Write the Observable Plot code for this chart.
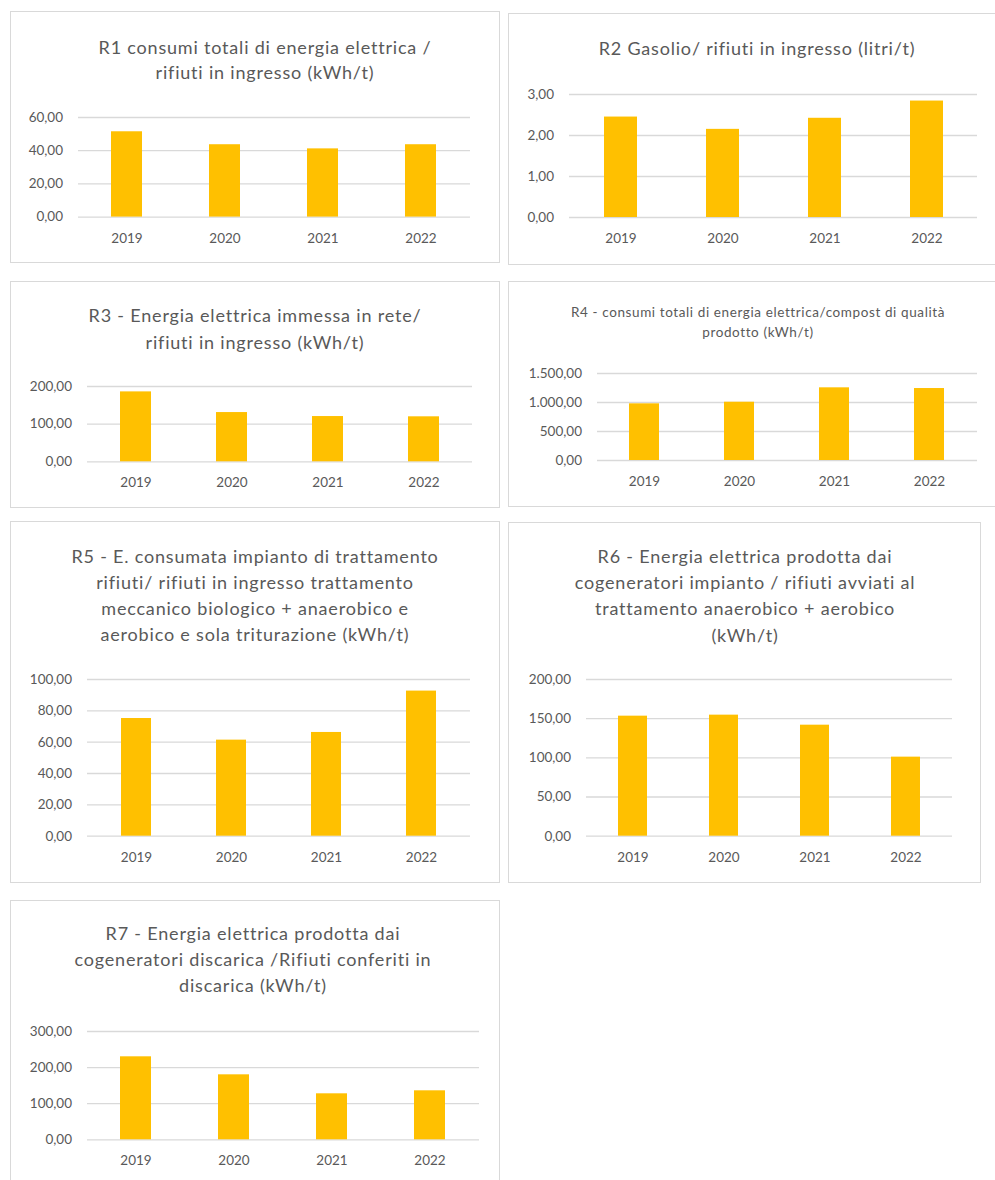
<!DOCTYPE html>
<html>
<head>
<meta charset="utf-8">
<script src="https://cdn.jsdelivr.net/npm/d3@7"></script>
<script src="https://cdn.jsdelivr.net/npm/@observablehq/plot@0.6"></script>
<style>
  html, body { margin: 0; padding: 0; background: #fff; }
  body { width: 995px; height: 1180px; overflow: hidden; position: relative; font-family: Lato, "Open Sans", sans-serif; }
  .box { position: absolute; border: 1.5px solid #d9d9d9; box-sizing: border-box; background: #fff; }
  .tline { position: absolute; transform: translate(-50%, -50%); white-space: nowrap; color: #595959; font-family: Lato, sans-serif; letter-spacing: 0.045em; }
  .chart { position: absolute; }
</style>
</head>
<body>
<script>
// ---- Data ----
const years = ["2019", "2020", "2021", "2022"];

const r1 = [51.4, 43.6, 41.1, 43.6];
const r2 = [2.45, 2.15, 2.42, 2.84];
const r3 = [185.7, 130.8, 120.2, 119.5];
const r4 = [977, 1005, 1253, 1241];
const r5 = [75.1, 61.3, 66.2, 92.6];
const r6 = [153.2, 154.5, 141.7, 100.9];
const r7 = [229.9, 180.0, 127.4, 135.7];

const ticks1 = [0, 20, 40, 60];
const ticks2 = [0, 1, 2, 3];
const ticks3 = [0, 100, 200];
const ticks4 = [0, 500, 1000, 1500];
const ticks5 = [0, 20, 40, 60, 80, 100];
const ticks6 = [0, 50, 100, 150, 200];
const ticks7 = [0, 100, 200, 300];

const title1 = ["R1 consumi totali di energia elettrica /", "rifiuti in ingresso (kWh/t)"];
const title2 = ["R2 Gasolio/ rifiuti in ingresso (litri/t)"];
const title3 = ["R3 - Energia elettrica immessa in rete/", "rifiuti in ingresso (kWh/t)"];
const title4 = ["R4 - consumi totali di energia elettrica/compost di qualità", "prodotto (kWh/t)"];
const title5 = ["R5 - E. consumata impianto di trattamento", "rifiuti/ rifiuti in ingresso trattamento", "meccanico biologico + anaerobico e", "aerobico e sola triturazione (kWh/t)"];
const title6 = ["R6 - Energia elettrica prodotta dai", "cogeneratori impianto / rifiuti avviati al", "trattamento anaerobico + aerobico", "(kWh/t)"];
const title7 = ["R7 - Energia elettrica prodotta dai", "cogeneratori discarica /Rifiuti conferiti in", "discarica (kWh/t)"];

// ---- Formatting ----
const it = d3.formatLocale({decimal: ",", thousands: ".", grouping: [3], currency: ["", " €"]});
const fmt = it.format(",.2f");

// ---- Layout (panel boxes & plot frames) ----
const panels = [
  {values: r1, ticks: ticks1, title: title1, box: [10, 11, 490, 252], x0: 78, x1: 470, yTop: 116.7, y0: 216.3, ty: [47, 72], tx: 265, tfs: 18},
  {values: r2, ticks: ticks2, title: title2, box: [508, 13, 520, 252], x0: 569, x1: 977, yTop: 94.3, y0: 217.3, ty: [48], tx: 757, tfs: 18},
  {values: r3, ticks: ticks3, title: title3, box: [10, 281, 490, 227], x0: 87, x1: 472, yTop: 386, y0: 461.3, ty: [315, 341.7], tx: 255, tfs: 18},
  {values: r4, ticks: ticks4, title: title4, box: [508, 281, 520, 226], x0: 597, x1: 977, yTop: 373, y0: 460, ty: [312, 332], tx: 758, tfs: 13.5},
  {values: r5, ticks: ticks5, title: title5, box: [10, 521, 490, 362], x0: 87, x1: 470, yTop: 679.3, y0: 836, ty: [555.7, 582.3, 607.7, 634.3], tx: 255, tfs: 18},
  {values: r6, ticks: ticks6, title: title6, box: [508, 522, 473, 361], x0: 586, x1: 952, yTop: 679.3, y0: 836, ty: [555.7, 582.3, 607.7, 635], tx: 745, tfs: 18},
  {values: r7, ticks: ticks7, title: title7, box: [10, 900, 490, 300], x0: 87, x1: 479, yTop: 1030.7, y0: 1139, ty: [933.3, 959.3, 985], tx: 253, tfs: 18}
];

const ML = 80, MR = 10, MT = 12, MB = 40;

for (const p of panels) {
  const box = document.createElement("div");
  box.className = "box";
  Object.assign(box.style, {left: p.box[0] + "px", top: p.box[1] + "px", width: p.box[2] + "px", height: p.box[3] + "px"});
  document.body.appendChild(box);

  p.title.forEach((line, i) => {
    const d = document.createElement("div");
    d.className = "tline";
    d.textContent = line;
    Object.assign(d.style, {left: p.tx + "px", top: p.ty[i] + "px", fontSize: p.tfs + "px"});
    document.body.appendChild(d);
  });

  const data = years.map((y, i) => ({year: y, value: p.values[i]}));
  const ymax = p.ticks[p.ticks.length - 1];
  const width = (p.x1 - p.x0) + ML + MR;
  const height = (p.y0 - p.yTop) + MT + MB;

  const chart = Plot.plot({
    width, height,
    marginLeft: ML, marginRight: MR, marginTop: MT, marginBottom: MB,
    style: {fontFamily: "Lato, sans-serif", fontSize: "13.5px", color: "#595959", background: "transparent", overflow: "visible"},
    x: {type: "band", domain: years, paddingInner: 0.68, paddingOuter: 0.34, label: null},
    y: {domain: [0, ymax], label: null},
    marks: [
      Plot.ruleY(p.ticks, {stroke: "#d9d9d9", strokeWidth: 1.3}),
      Plot.barY(data, {x: "year", y: "value", fill: "#FFC000"}),
      Plot.axisY(p.ticks, {tickSize: 0, tickPadding: 15.5, tickFormat: fmt, label: null, fill: "#595959"}),
      Plot.axisX({tickSize: 0, tickPadding: 16, label: null, fill: "#595959"})
    ]
  });
  chart.classList.add("chart");
  Object.assign(chart.style, {left: (p.x0 - ML) + "px", top: (p.yTop - MT) + "px"});
  document.body.appendChild(chart);
}
</script>
</body>
</html>
